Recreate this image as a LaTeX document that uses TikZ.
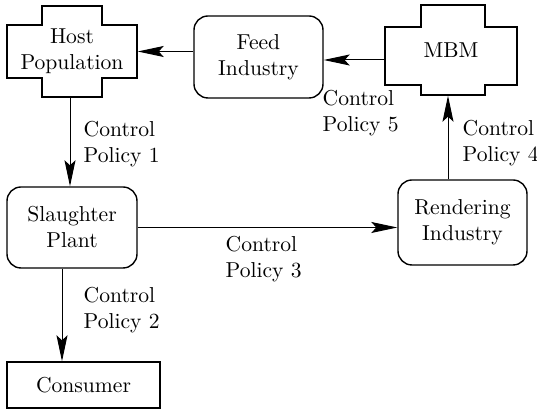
\documentclass[tikz,border=0pt]{standalone}
\usetikzlibrary{arrows.meta}
\begin{document}
\begin{tikzpicture}[x=0.5pt, y=-0.5pt, line width=0.7pt,
  font=\fontsize{10.8}{13}\selectfont,
  box/.style={draw, rounded corners=7pt, align=center, inner sep=0pt},
  crossnode/.style={align=center, inner sep=0pt},
  policy/.style={anchor=base west, align=left, inner sep=0pt},
  flow/.style={-{Stealth[length=13pt, width=5.5pt, inset=2.5pt]}, line width=0.5pt}]
\useasboundingbox (0,0) rectangle (537,410);
% cross shaped nodes
\node[crossnode, minimum width=65pt, minimum height=45.5pt] (host) at (72,51.5){Host\\Population};
\draw[] (42,6) -- (102,6) -- (102,25) -- (137,25) -- (137,78) -- (102,78) -- (102,97) -- (42,97) -- (42,78) -- (7,78) -- (7,25) -- (42,25) -- cycle;
\node[crossnode, minimum width=66pt, minimum height=45pt] (mbm) at (451,50){MBM};
\draw[] (421,5) -- (485,5) -- (485,27) -- (517,27) -- (517,85) -- (485,85) -- (485,95) -- (421,95) -- (421,85) -- (385,85) -- (385,27) -- (421,27) -- cycle;
% rounded boxes
\node[box, minimum width=64.5pt, minimum height=41pt] (feed) at (258.5,57){Feed\\Industry};
\node[box, minimum width=65pt, minimum height=40.5pt] (slaughter) at (72,227.5){Slaughter\\Plant};
\node[box, minimum width=64.5pt, minimum height=42.5pt] (rendering) at (462.5,222.5){Rendering\\Industry};
\node[draw, inner sep=0pt, minimum width=76.5pt, minimum height=23pt] (consumer) at (83.5,385){Consumer};
% flows
\draw[flow] ([xshift=-1pt]host.south) -- ([xshift=-1pt]slaughter.north);
\draw[flow] ([xshift=-5pt]slaughter.south) -- ([xshift=-5pt]slaughter.south |- consumer.north);
\draw[flow] (slaughter.east) -- (slaughter.east -| rendering.west);
\draw[flow] ([xshift=-7.25pt]rendering.north) -- ([xshift=-7.25pt]rendering.north |- mbm.south);
\draw[flow] ([yshift=-5pt]mbm.west) -- ([yshift=-5pt]mbm.west -| feed.east);
\draw[flow] (feed.west |- host.east) -- (host.east);
% labels
\node[policy] (cp1) at (83,163){Control\\Policy 1};
\node[policy] (cp2) at (83,329){Control\\Policy 2};
\node[policy] (cp3) at (225,278){Control\\Policy 3};
\node[policy] (cp4) at (462,162){Control\\Policy 4};
\node[policy] (cp5) at (322,132){Control\\Policy 5};
\end{tikzpicture}
\end{document}
